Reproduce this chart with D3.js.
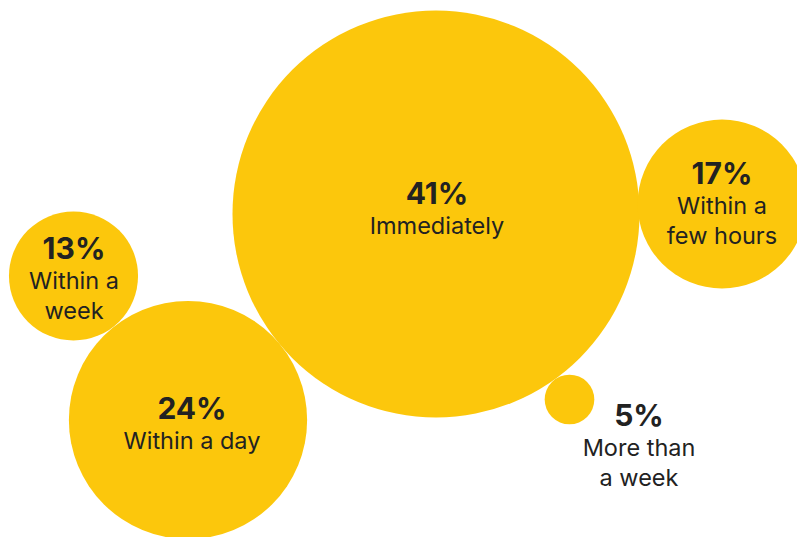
<!DOCTYPE html>
<html><head><meta charset="utf-8">
<script src="https://cdn.jsdelivr.net/npm/d3@7"></script>
<style>html,body{margin:0;padding:0;background:#fff;overflow:hidden}</style>
</head><body>
<svg id="chart" width="797" height="537"></svg>
<script>
const categories = ["Immediately", "Within a few hours", "Within a week", "Within a day", "More than a week"];
const values = [41, 17, 13, 24, 5];
const labelLines = [["Immediately"], ["Within a", "few hours"], ["Within a", "week"], ["Within a day"], ["More than", "a week"]];

// layout (centers) – position only
const centers = [[436, 214], [722, 204], [73.5, 276], [188, 420], [569.5, 399.5]];
// label anchors: [x, baseline of percent]
const labelAnchors = [[437, 204], [722, 184], [74, 259], [192, 419], [639, 426]];

const svg = d3.select("#chart");
const r = d3.scaleLinear().domain([0, 41]).range([0, 203.5]);
const yellow = "#FCC70C";
const ink = "#222222";

const data = categories.map((c, i) => ({c, v: values[i], lines: labelLines[i], cx: centers[i][0], cy: centers[i][1], lx: labelAnchors[i][0], ly: labelAnchors[i][1]}));

svg.selectAll("circle").data(data).join("circle")
  .attr("cx", d => d.cx).attr("cy", d => d.cy).attr("r", d => r(d.v))
  .attr("fill", yellow);

const g = svg.selectAll("g.lab").data(data).join("g").attr("class", "lab");
g.append("text")
  .attr("x", d => d.lx).attr("y", d => d.ly)
  .attr("text-anchor", "middle")
  .style("font-family", "Inter, 'Open Sans', sans-serif")
  .style("font-weight", 700).style("font-size", "30px").attr("fill", ink)
  .text(d => d.v + "%");
g.each(function(d) {
  const sel = d3.select(this);
  d.lines.forEach((line, j) => {
    sel.append("text")
      .attr("x", d.lx).attr("y", d.ly + 30 + j * 30)
      .attr("text-anchor", "middle")
      .style("font-family", "Inter, 'Open Sans', sans-serif")
      .style("font-weight", 400).style("font-size", "23.5px").attr("fill", ink)
      .text(line);
  });
});
</script>
</body></html>
